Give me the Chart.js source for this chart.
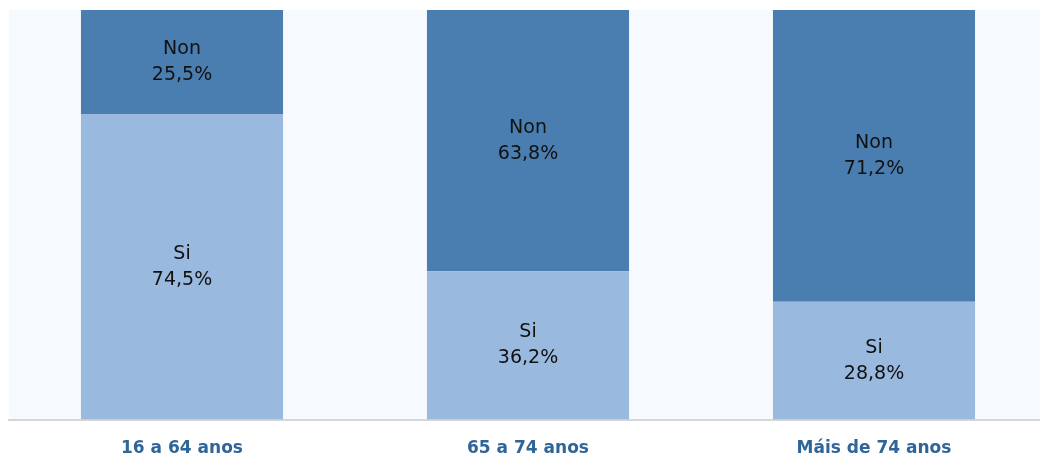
<!DOCTYPE html>
<html>
<head>
<meta charset="utf-8">
<script src="https://cdn.jsdelivr.net/npm/chart.js@4/dist/chart.umd.min.js"></script>
<style>
    html, body { margin: 0; padding: 0; background: #fff; overflow: hidden; }
    #wrap { position: relative; width: 1056px; height: 478px; }
</style>
</head>
<body>
<div id="wrap"><canvas id="grafico"></canvas></div>
<script>
var categorias = ['16 a 64 anos', '65 a 74 anos', 'Máis de 74 anos'];
var series = ['Si', 'Non'];
var valoresSi = [74.5, 36.2, 28.8];
var valoresNon = [25.5, 63.8, 71.2];
var ticksY = [0, 100];

// fondo azul claro da área do gráfico
var fondoArea = {
    id: 'fondoArea',
    beforeDraw: function(chart) {
        var a = chart.chartArea;
        var ctx = chart.ctx;
        ctx.save();
        ctx.fillStyle = '#f6f9fd';
        ctx.fillRect(a.left, a.top, a.right - a.left, a.bottom - a.top);
        ctx.restore();
    }
};

// etiqueta "serie / valor %" no centro de cada segmento
var etiquetas = {
    id: 'etiquetas',
    afterDatasetsDraw: function(chart) {
        var ctx = chart.ctx;
        ctx.save();
        ctx.font = '19px "DejaVu Sans"';
        ctx.fillStyle = '#111';
        ctx.textAlign = 'center';
        ctx.textBaseline = 'middle';
        chart.data.datasets.forEach(function(ds, i) {
            chart.getDatasetMeta(i).data.forEach(function(bar, j) {
                var cy = (bar.y + bar.base) / 2;
                var txt = ds.data[j].toFixed(1).replace('.', ',') + '%';
                ctx.fillText(ds.label, bar.x, cy - 13);
                ctx.fillText(txt, bar.x, cy + 13);
            });
        });
        ctx.restore();
    }
};

var grafico = new Chart(document.getElementById('grafico'), {
    type: 'bar',
    data: {
        labels: categorias,
        datasets: [{
            label: series[0],
            data: valoresSi,
            backgroundColor: '#99b9df'
        }, {
            label: series[1],
            data: valoresNon,
            backgroundColor: '#4a7eb0'
        }]
    },
    options: {
        responsive: true,
        maintainAspectRatio: false,
        animation: false,
        categoryPercentage: 1,
        barPercentage: 0.584,
        layout: {
            padding: { left: 9, right: 9, top: 10, bottom: 0 }
        },
        plugins: {
            legend: { display: false },
            tooltip: { enabled: false }
        },
        scales: {
            x: {
                stacked: true,
                grid: { display: false, drawTicks: false },
                border: { display: true, color: '#d6d6d6', width: 2 },
                ticks: {
                    padding: 19,
                    color: '#2f6598',
                    font: { family: '"DejaVu Sans"', size: 17, weight: 'bold' }
                }
            },
            y: {
                stacked: true,
                display: false,
                min: ticksY[0],
                max: ticksY[1]
            }
        }
    },
    plugins: [fondoArea, etiquetas]
});
</script>
</body>
</html>
